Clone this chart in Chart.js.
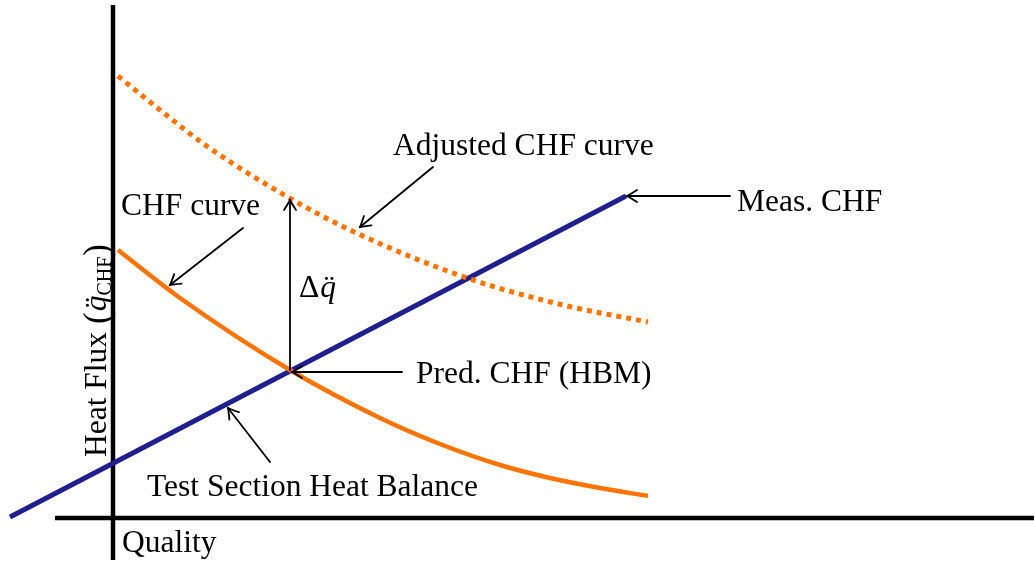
<!DOCTYPE html>
<html>
<head>
<meta charset="utf-8">
<script src="https://cdn.jsdelivr.net/npm/chart.js@4.4.1/dist/chart.umd.min.js"></script>
<style>
  html, body { margin: 0; padding: 0; background: #fff; }
  #wrap { width: 1034px; height: 562px; position: relative; }
</style>
</head>
<body>
<div id="wrap"><canvas id="c"></canvas></div>
<script>
// schematic units: quality on x, heat flux on y
const heatBalance = [{ x: -1.03, y: 0.01 }, { x: 5.13, y: 3.22 }];
const chfCurve = [
  { x: 0.05, y: 2.68 }, { x: 0.67, y: 2.20 }, { x: 1.77, y: 1.48 }, { x: 2.67, y: 1.00 },
  { x: 3.27, y: 0.74 }, { x: 3.87, y: 0.53 }, { x: 4.37, y: 0.40 }, { x: 4.87, y: 0.30 },
  { x: 5.35, y: 0.22 }
];
const adjustedCurve = [
  { x: 0.05, y: 4.42 }, { x: 0.47, y: 4.08 }, { x: 0.95, y: 3.71 }, { x: 1.80, y: 3.18 },
  { x: 2.37, y: 2.88 }, { x: 3.54, y: 2.40 }, { x: 4.50, y: 2.13 }, { x: 5.35, y: 1.96 }
];
const yAxisLine = [{ x: 0, y: 5.13 }, { x: 0, y: -0.42 }];
const xAxisLine = [{ x: -0.58, y: 0 }, { x: 9.21, y: 0 }];

// arrows: [from, to], head at "to"
const arrows = [
  [[1.30, 2.90], [0.57, 2.33]],
  [[1.77, 1.48], [1.77, 3.18]],
  [[3.20, 3.51], [2.47, 2.91]],
  [[2.89, 1.46], [1.79, 1.46]],
  [[6.17, 3.22], [5.14, 3.22]],
  [[1.57, 0.56], [1.15, 1.10]]
];
const labels = [
  { text: 'CHF curve', at: [0.08, 3.03] },
  { text: 'Adjusted CHF curve', at: [2.80, 3.63] },
  { text: 'Meas. CHF', at: [6.24, 3.07] },
  { text: 'Pred. CHF (HBM)', at: [3.03, 1.35] },
  { text: 'Test Section Heat Balance', at: [0.34, 0.22] },
  { text: 'Quality', at: [0.09, -0.34] }
];
const deltaLabelAt = [1.86, 2.21];
const yTitleAt = [-0.07, 0.61];

const ORANGE = '#ff7400';
const BLUE = '#1f1f8e';
const FONT = 'Liberation Serif, Times New Roman, serif';
const SIZE = 31.5;

function drawHead(ctx, x1, y1, x2, y2) {
  const a = Math.atan2(y2 - y1, x2 - x1);
  ctx.save();
  ctx.translate(x2, y2);
  ctx.rotate(a);
  ctx.beginPath();
  ctx.moveTo(-10, -6);
  ctx.quadraticCurveTo(-3, -1.5, 0, 0);
  ctx.quadraticCurveTo(-3, 1.5, -10, 6);
  ctx.stroke();
  ctx.restore();
}

const annot = {
  id: 'annot',
  afterDatasetsDraw(chart) {
    const ctx = chart.ctx;
    const xs = chart.scales.x, ys = chart.scales.y;
    const px = v => xs.getPixelForValue(v), py = v => ys.getPixelForValue(v);
    ctx.save();
    ctx.strokeStyle = '#000';
    ctx.lineWidth = 1.8;
    ctx.lineCap = 'round';
    arrows.forEach(([f, t]) => {
      const x1 = px(f[0]), y1 = py(f[1]), x2 = px(t[0]), y2 = py(t[1]);
      ctx.beginPath();
      ctx.moveTo(x1, y1);
      ctx.lineTo(x2, y2);
      ctx.stroke();
      drawHead(ctx, x1, y1, x2, y2);
    });

    ctx.fillStyle = '#000';
    ctx.textBaseline = 'alphabetic';
    ctx.font = SIZE + 'px ' + FONT;
    labels.forEach(l => ctx.fillText(l.text, px(l.at[0]), py(l.at[1])));

    // delta q-double-dot
    let dx = px(deltaLabelAt[0]), dy = py(deltaLabelAt[1]);
    ctx.font = SIZE + 'px ' + FONT;
    ctx.fillText('Δ', dx, dy);
    dx += ctx.measureText('Δ').width + 1;
    ctx.font = 'italic ' + SIZE + 'px ' + FONT;
    ctx.fillText('q\u0308', dx, dy);

    // rotated y title
    ctx.save();
    ctx.translate(px(yTitleAt[0]), py(yTitleAt[1]));
    ctx.rotate(-Math.PI / 2);
    let x = 0;
    ctx.font = SIZE + 'px ' + FONT;
    ctx.fillText('Heat Flux ', x, 0);
    x += ctx.measureText('Heat Flux ').width;
    ctx.font = '35px ' + FONT;
    ctx.fillText('(', x, 2);
    x += ctx.measureText('(').width + 1;
    ctx.font = 'italic ' + SIZE + 'px ' + FONT;
    ctx.fillText('q\u0308', x, 0);
    x += ctx.measureText('q').width;
    ctx.font = '20px ' + FONT;
    ctx.fillText('CHF', x, 5);
    x += ctx.measureText('CHF').width + 1;
    ctx.font = '35px ' + FONT;
    ctx.fillText(')', x, 2);
    ctx.restore();
    ctx.restore();
  }
};

new Chart(document.getElementById('c'), {
  type: 'line',
  data: {
    datasets: [
      { data: adjustedCurve, borderColor: ORANGE, borderWidth: 5, borderDash: [5, 5], cubicInterpolationMode: 'monotone', pointRadius: 0 },
      { data: chfCurve, borderColor: ORANGE, borderWidth: 4.5, cubicInterpolationMode: 'monotone', pointRadius: 0 },
      { data: heatBalance, borderColor: BLUE, borderWidth: 5, pointRadius: 0 },
      { data: yAxisLine, borderColor: '#000', borderWidth: 4.5, pointRadius: 0 },
      { data: xAxisLine, borderColor: '#000', borderWidth: 4.5, pointRadius: 0 }
    ]
  },
  options: {
    responsive: true,
    maintainAspectRatio: false,
    animation: false,
    layout: { padding: 0 },
    plugins: { legend: { display: false }, tooltip: { enabled: false } },
    scales: {
      x: { type: 'linear', display: false, min: -1.13, max: 9.21 },
      y: { type: 'linear', display: false, min: -0.44, max: 5.18 }
    }
  },
  plugins: [annot]
});
</script>
</body>
</html>
